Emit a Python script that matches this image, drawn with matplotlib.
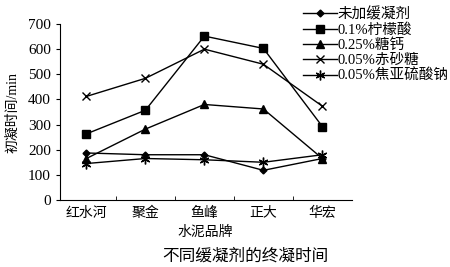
import matplotlib
matplotlib.use("Agg")
import matplotlib.pyplot as plt
import numpy as np

plt.rcParams['font.family'] = ['Liberation Serif', 'Noto Sans CJK SC', 'DejaVu Sans']

categories = ["红水河", "聚金", "鱼峰", "正大", "华宏"]
series_names = ["未加缓凝剂", "0.1%柠檬酸", "0.25%糖钙", "0.05%赤砂糖", "0.05%焦亚硫酸钠"]
none_vals = [187, 180, 180, 118, 165]
citric_vals = [263, 357, 652, 603, 292]
sugarcal_vals = [165, 282, 380, 362, 165]
brownsugar_vals = [412, 484, 600, 540, 373]
metab_vals = [145, 165, 160, 150, 180]
yticks = [0, 100, 200, 300, 400, 500, 600, 700]
ylabel = "初凝时间/min"
xlabel = "水泥品牌"
title = "不同缓凝剂的终凝时间"

series = [none_vals, citric_vals, sugarcal_vals, brownsugar_vals, metab_vals]
markers = ['D', 's', '^', 'x', (6, 2, 0)]
msizes = [3.5, 5.5, 6, 6, 7]

fig = plt.figure(figsize=(4.5, 2.67), dpi=100)
ax = fig.add_axes([0.133, 0.251, 0.649, 0.659])
x = np.arange(len(categories))
handles = []
for vals, name, m, ms in zip(series, series_names, markers, msizes):
    h, = ax.plot(x, vals, color='black', lw=1.0, marker=m, ms=ms,
                 markeredgewidth=1.0, label=name)
    handles.append(h)

ax.set_xlim(-0.45, len(categories) - 0.5)
ax.set_ylim(0, 700)
ax.set_yticks(yticks)
ax.spines['top'].set_visible(False)
ax.spines['right'].set_visible(False)
ax.set_xticks(x)
ax.set_xticklabels(categories, family=['Noto Sans CJK SC'], fontsize=10)
ax.set_xticks(np.arange(0.5, len(categories) - 0.5, 1.0), minor=True)
ax.tick_params(axis='x', which='major', length=0, pad=4)
ax.tick_params(axis='x', which='minor', direction='in', length=3)
ax.tick_params(axis='y', direction='out', length=3, labelsize=11)
ax.set_ylabel(ylabel, family=['Liberation Serif', 'Noto Sans CJK SC'], fontsize=10, labelpad=6)
fig.text(0.455, 1 - 232 / 267, xlabel, ha='center', va='center',
         family=['Noto Sans CJK SC'], fontsize=10)

leg = fig.legend(handles=handles, labels=series_names, loc='upper left',
                 bbox_to_anchor=(0.645, 1.022), frameon=False,
                 handlelength=2.3, handletextpad=0.05, labelspacing=0.12,
                 prop={'family': ['Liberation Serif', 'Noto Sans CJK SC'], 'size': 10.5})
fig.text(0.545, 1 - 256 / 267, title, ha='center', va='center',
         family=['Noto Sans CJK SC'], fontsize=12)
fig.savefig("out.png", dpi=100)
